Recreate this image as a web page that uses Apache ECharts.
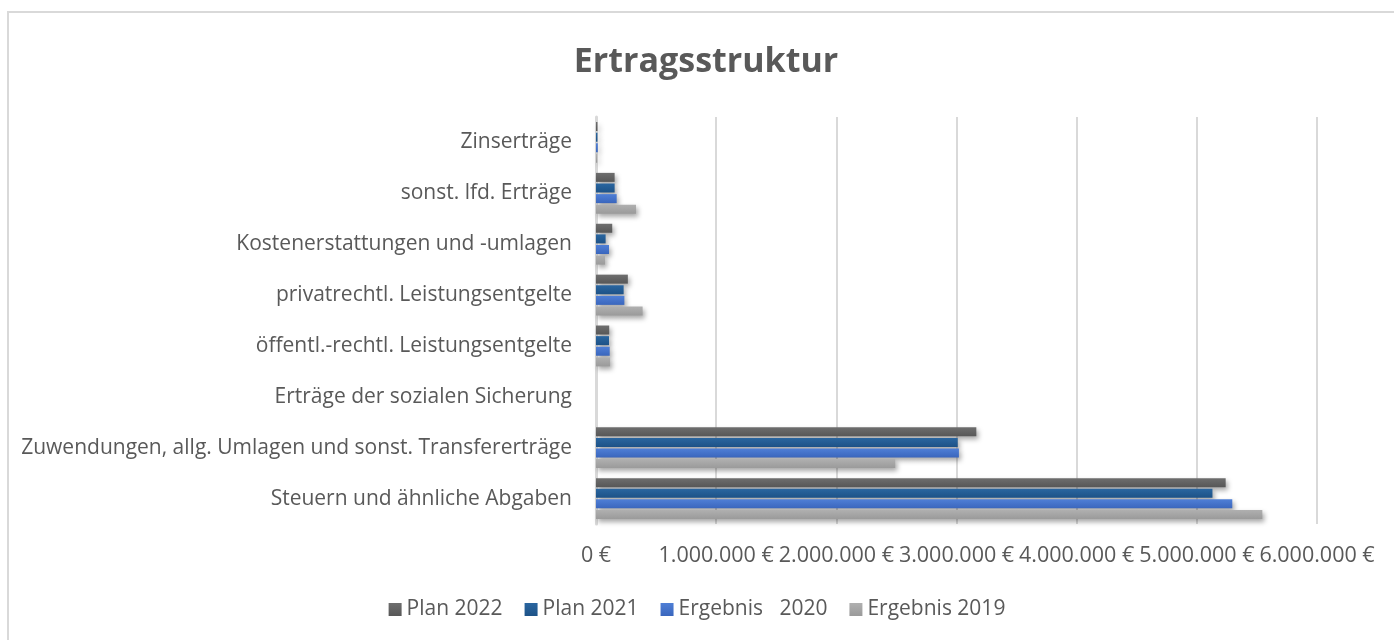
<!DOCTYPE html>
<html>
<head>
<meta charset="utf-8">
<title>Ertragsstruktur</title>
<script src="https://cdn.jsdelivr.net/npm/echarts@6/dist/echarts.min.js"></script>
<style>
  html, body { margin: 0; padding: 0; background: #fff; }
  #myChart { width: 1394px; height: 640px; }
</style>
</head>
<body>
<div id="myChart"></div>
<script>
// categories from bottom to top (category axis starts at the bottom)
const categorias = [
  'Steuern und ähnliche Abgaben',
  'Zuwendungen, allg. Umlagen und sonst. Transfererträge',
  'Erträge der sozialen Sicherung',
  'öffentl.-rechtl. Leistungsentgelte',
  'privatrechtl. Leistungsentgelte',
  'Kostenerstattungen und -umlagen',
  'sonst. lfd. Erträge',
  'Zinserträge'
];
const plan2022 = [5240000, 3165000, 0, 110000, 265000, 135000, 155000, 12000];
const plan2021 = [5130000, 3010000, 0, 108000, 230000, 80000, 155000, 12000];
const erg2020  = [5295000, 3020000, 0, 114000, 236000, 108000, 172000, 15000];
const erg2019  = [5545000, 2490000, 0, 117000, 388000, 75000, 333000, 10000];
const serieNames = ['Plan 2022', 'Plan 2021', 'Ergebnis  2020', 'Ergebnis 2019'];
const xTicks = { min: 0, max: 6000000, interval: 1000000 };

const colores = [
  ['#6e6e6e', '#575757'],
  ['#2a66a0', '#1d5287'],
  ['#4f7fd6', '#3a66bd'],
  ['#b0b0b0', '#9a9a9a']
];
const txt = '#595959';

function euro(v) {
  return String(v).replace(/\B(?=(\d{3})+(?!\d))/g, '.') + ' €';
}

function barSerie(idx, data) {
  return {
    name: serieNames[idx],
    type: 'bar',
    data: data,
    barWidth: 9,
    barGap: '18%',
    itemStyle: {
      color: new echarts.graphic.LinearGradient(0, 0, 0, 1, [
        { offset: 0, color: colores[idx][0] },
        { offset: 1, color: colores[idx][1] }
      ]),
      shadowColor: 'rgba(0,0,0,0.35)',
      shadowBlur: 5,
      shadowOffsetX: 2,
      shadowOffsetY: 3
    }
  };
}

const myChart = echarts.init(document.getElementById('myChart'), null, { renderer: 'canvas' });
const option = {
  backgroundColor: '#fff',
  animation: false,
  color: colores.map(c => c[1]),
  textStyle: { fontFamily: '"Open Sans", sans-serif' },
  graphic: [{
    type: 'rect',
    shape: { x: 8, y: 12, width: 1420, height: 700 },
    style: { fill: 'none', stroke: '#d9d9d9', lineWidth: 2 },
    silent: true
  }],
  title: {
    text: 'Ertragsstruktur',
    left: 701,
    textAlign: 'center',
    top: 40,
    textStyle: { fontFamily: '"Open Sans", sans-serif', fontSize: 34, fontWeight: 'bold', color: txt }
  },
  legend: {
    data: serieNames,
    left: 'center',
    top: 594,
    itemWidth: 13,
    itemHeight: 13,
    itemGap: 22,
    icon: 'rect',
    // the double space in "Ergebnis  2020" is drawn a bit wide in the original
    formatter: name => name.replace('  ', '  \u00a0'),
    textStyle: { fontSize: 21, color: txt }
  },
  grid: { left: 596, right: 77, top: 117, bottom: 116, containLabel: false },
  xAxis: {
    type: 'value',
    min: xTicks.min,
    max: xTicks.max,
    interval: xTicks.interval,
    axisLine: { show: false },
    axisTick: { show: false },
    splitLine: { lineStyle: { color: '#d9d9d9', width: 2 } },
    axisLabel: { formatter: euro, fontSize: 21.5, color: txt, margin: 21 }
  },
  yAxis: {
    type: 'category',
    data: categorias,
    axisLine: { show: true, lineStyle: { color: '#d9d9d9', width: 3 } },
    axisTick: { show: false },
    axisLabel: { fontSize: 21, color: txt, margin: 24 }
  },
  series: [
    barSerie(0, plan2022),
    barSerie(1, plan2021),
    barSerie(2, erg2020),
    barSerie(3, erg2019)
  ]
};
myChart.setOption(option);
window.addEventListener('resize', function() { myChart.resize(); });
</script>
</body>
</html>
